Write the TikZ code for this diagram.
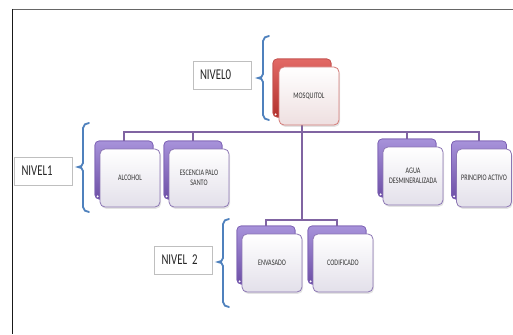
\documentclass[tikz,border=0pt]{standalone}
\usepackage{fontspec}
\setmainfont{Carlito}[FakeStretch=0.72]
\usetikzlibrary{shadows}
\definecolor{conncol}{HTML}{8064A2}
\definecolor{bracecol}{HTML}{4F81BD}
\definecolor{pbtop}{HTML}{A792DA}
\definecolor{pbbot}{HTML}{6D4FA6}
\definecolor{pbdraw}{HTML}{7A5EB2}
\definecolor{rbtop}{HTML}{E26A66}
\definecolor{rbbot}{HTML}{B2302C}
\definecolor{rbdraw}{HTML}{C0504D}
\definecolor{frontbot}{HTML}{E3E0EA}
\definecolor{frontdraw}{HTML}{8C76B4}
\definecolor{rfrontbot}{HTML}{EEDFE0}
\definecolor{rfrontdraw}{HTML}{D47A77}
\definecolor{labeldraw}{HTML}{BFBFBF}
\definecolor{txt}{HTML}{333333}
\tikzset{
  backbox/.style={rounded corners=4pt, draw=pbdraw, line width=0.6pt,
    top color=pbtop, bottom color=pbbot, minimum width=58pt, minimum height=58pt,
    inner sep=0pt,
    path picture={\fill[white] ([shift={(2.6pt,2.6pt)}]path picture bounding box.south west) circle (1.1pt);}},
  redback/.style={backbox, draw=rbdraw, top color=rbtop, bottom color=rbbot},
  frontbox/.style={rounded corners=5pt, draw=frontdraw, line width=0.8pt,
    top color=white, bottom color=frontbot, minimum width=60pt, minimum height=58pt,
    inner sep=1pt, align=center, text=txt, font=\fontsize{8.5}{10.5}\selectfont,
    drop shadow={opacity=0.22, shadow xshift=1pt, shadow yshift=-1.8pt}},
  redfront/.style={frontbox, draw=rfrontdraw, bottom color=rfrontbot},
  levellabel/.style={draw=labeldraw, line width=0.7pt, fill=white, minimum width=58pt,
    minimum height=28pt, text width=44pt, inner xsep=7pt, align=left, text=black!85,
    font=\fontsize{15}{18}\selectfont},
  conn/.style={draw=conncol, line width=2.2pt},
  bracestyle/.style={draw=bracecol, line width=1.8pt, line cap=round},
}
\newcommand\levelbrace[4]{% x of line, ytop, ybot, ymid
  \draw[bracestyle] (#1+6,#2) to[out=180,in=90] (#1,#2+5) -- (#1,#4-4)
    to[out=-90,in=0] (#1-5,#4) to[out=0,in=90] (#1,#4+4) -- (#1,#3-5)
    to[out=-90,in=180] (#1+6,#3);}
\begin{document}
\begin{tikzpicture}[x=1pt,y=-1pt]
\useasboundingbox (0,0) rectangle (513,334);
% frame
\draw[black!60, line width=0.9pt] (12,9) -- (513,9);
\draw[black!90, line width=0.9pt] (12,9) -- (12,334);

% back boxes
\node[redback] (mos-b) at (302,88) {};
\node[backbox] (alc-b) at (124,170) {};
\node[backbox] (esc-b) at (193,170) {};
\node[backbox] (agu-b) at (407,168) {};
\node[backbox, minimum width=55pt] (pri-b) at (479,170) {};
\node[backbox] (env-b) at (266,255) {};
\node[backbox] (cod-b) at (337,255) {};

% bus coordinates
\coordinate (bus1) at (0,132);
\coordinate (bus2) at (0,220);

% connectors
\draw[conn] (mos-b.center) -- (mos-b.center |- bus2);
\draw[conn] (alc-b.north) -- (alc-b.north |- bus1) -- (pri-b.north |- bus1) -- (pri-b.north);
\draw[conn] (esc-b.north) -- (esc-b.north |- bus1);
\draw[conn] (agu-b.north) -- (agu-b.north |- bus1);
\draw[conn] (env-b.north) -- (env-b.north |- bus2) -- (cod-b.north |- bus2) -- (cod-b.north);

% redraw back boxes over connector ends
\node[redback] at (mos-b) {};
\node[backbox] at (alc-b) {};
\node[backbox] at (esc-b) {};
\node[backbox] at (agu-b) {};
\node[backbox, minimum width=55pt] at (pri-b) {};
\node[backbox] at (env-b) {};
\node[backbox] at (cod-b) {};

% front boxes
\node[redfront] (mos) at (309,96) {MOSQUITOL};
\node[frontbox] (alc) at (130,178) {ALCOHOL};
\node[frontbox] (esc) at (199,178) {ESCENCIA PALO\\SANTO};
\node[frontbox] (agu) at (413,176) {AGUA\\DESMINERALIZADA};
\node[frontbox, minimum width=55pt] (pri) at (484,178) {PRINCIPIO ACTIVO};
\node[frontbox] (env) at (272,263) {ENVASADO};
\node[frontbox] (cod) at (343,263) {CODIFICADO};

% level labels
\node[levellabel] (n0) at (222,75) {NIVEL0};
\node[levellabel] (n1) at (43.5,171) {NIVEL1};
\node[levellabel] (n2) at (183.5,260) {NIVEL 2};

% braces
\levelbrace{263}{36}{120}{78}
\levelbrace{83}{123}{212}{167}
\levelbrace{223}{219}{307}{262}
\end{tikzpicture}
\end{document}
